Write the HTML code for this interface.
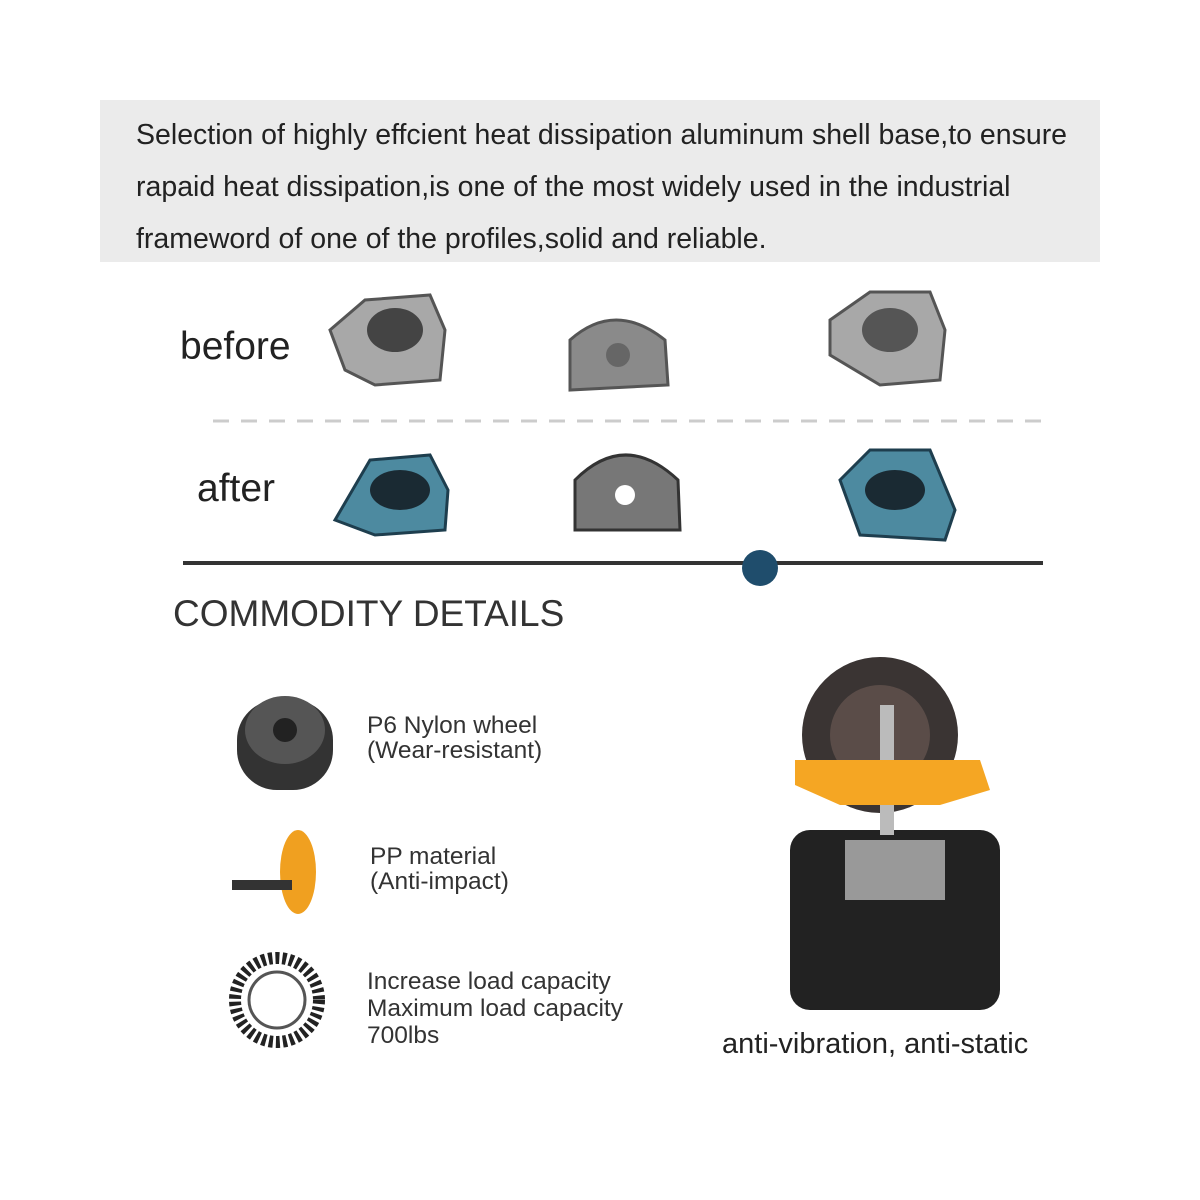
<!DOCTYPE html>
<html><head><meta charset="utf-8"><style>
body{margin:0;background:#fff;width:1200px;height:1200px;position:relative;overflow:hidden;font-family:"Liberation Sans",sans-serif;color:#222}
.t{position:absolute;white-space:nowrap}
</style></head><body>
<div style="position:absolute;left:100px;top:100px;width:1000px;height:162px;background:#ebebeb"></div>
<div class="t" style="left:136px;top:109px;font-size:28.5px;line-height:52px;color:#222">Selection of highly effcient heat dissipation aluminum shell base,to ensure<br>rapaid heat dissipation,is one of the most widely used in the industrial<br>frameword of one of the profiles,solid and reliable.</div>
<div class="t" style="left:180px;top:325px;font-size:39px">before</div>
<div class="t" style="left:197px;top:467px;font-size:39px">after</div>
<div class="t" style="left:173px;top:593px;font-size:37px;color:#333">COMMODITY DETAILS</div>
<div class="t" style="left:367px;top:713px;font-size:24.5px;line-height:25px;color:#333">P6 Nylon wheel<br>(Wear-resistant)</div>
<div class="t" style="left:370px;top:844px;font-size:24.5px;line-height:25px;color:#333">PP material<br>(Anti-impact)</div>
<div class="t" style="left:367px;top:968px;font-size:24.5px;line-height:27px;color:#333">Increase load capacity<br>Maximum load capacity<br>700lbs</div>
<div class="t" style="left:722px;top:1028px;font-size:29px;color:#222">anti-vibration, anti-static</div>
<svg width="1200" height="1200" style="position:absolute;left:0;top:0">
<line x1="213" y1="421" x2="1045" y2="421" stroke="#ccc" stroke-width="3" stroke-dasharray="16,12"/>
<line x1="183" y1="563" x2="1043" y2="563" stroke="#333" stroke-width="4"/>
<circle cx="760" cy="568" r="18" fill="#1f4d6c"/>
<g fill="#a8a8a8" stroke="#555" stroke-width="3">
<path d="M330 330 L365 300 L430 295 L445 330 L440 380 L375 385 L345 370Z"/>
<path d="M570 340 Q615 300 665 340 L668 385 L570 390Z" fill="#8a8a8a"/>
<path d="M830 320 L870 292 L930 292 L945 330 L940 380 L880 385 L830 355Z"/>
</g>
<ellipse cx="395" cy="330" rx="28" ry="22" fill="#444"/>
<circle cx="618" cy="355" r="12" fill="#666"/>
<ellipse cx="890" cy="330" rx="28" ry="22" fill="#555"/>
<g fill="#4d8aa0" stroke="#1e3e4e" stroke-width="3">
<path d="M335 520 L370 460 L430 455 L448 490 L445 530 L375 535Z"/>
<path d="M840 480 L870 450 L930 450 L955 510 L945 540 L860 535Z"/>
</g>
<path d="M575 480 Q625 430 678 480 L680 530 L575 530Z" fill="#777" stroke="#333" stroke-width="3"/>
<circle cx="625" cy="495" r="10" fill="#fff"/>
<ellipse cx="400" cy="490" rx="30" ry="20" fill="#1a2a33"/>
<ellipse cx="895" cy="490" rx="30" ry="20" fill="#1a2a33"/>
<rect x="237" y="700" width="96" height="90" rx="40" fill="#333"/>
<ellipse cx="285" cy="730" rx="40" ry="34" fill="#555"/>
<circle cx="285" cy="730" r="12" fill="#222"/>
<ellipse cx="298" cy="872" rx="18" ry="42" fill="#f0a020"/>
<rect x="232" y="880" width="60" height="10" fill="#333"/>
<circle cx="277" cy="1000" r="42" fill="none" stroke="#222" stroke-width="12" stroke-dasharray="4,3"/>
<circle cx="277" cy="1000" r="28" fill="none" stroke="#555" stroke-width="3"/>
<circle cx="880" cy="735" r="78" fill="#3a3433"/>
<circle cx="880" cy="735" r="50" fill="#5a4c48"/>
<rect x="790" y="830" width="210" height="180" rx="20" fill="#222"/>
<rect x="845" y="840" width="100" height="60" fill="#999"/>
<rect x="880" y="705" width="14" height="130" fill="#bbb"/>
<path d="M795 760 L980 760 L990 790 L940 805 L840 805 L795 785Z" fill="#f5a623"/>
</svg>
</body></html>
